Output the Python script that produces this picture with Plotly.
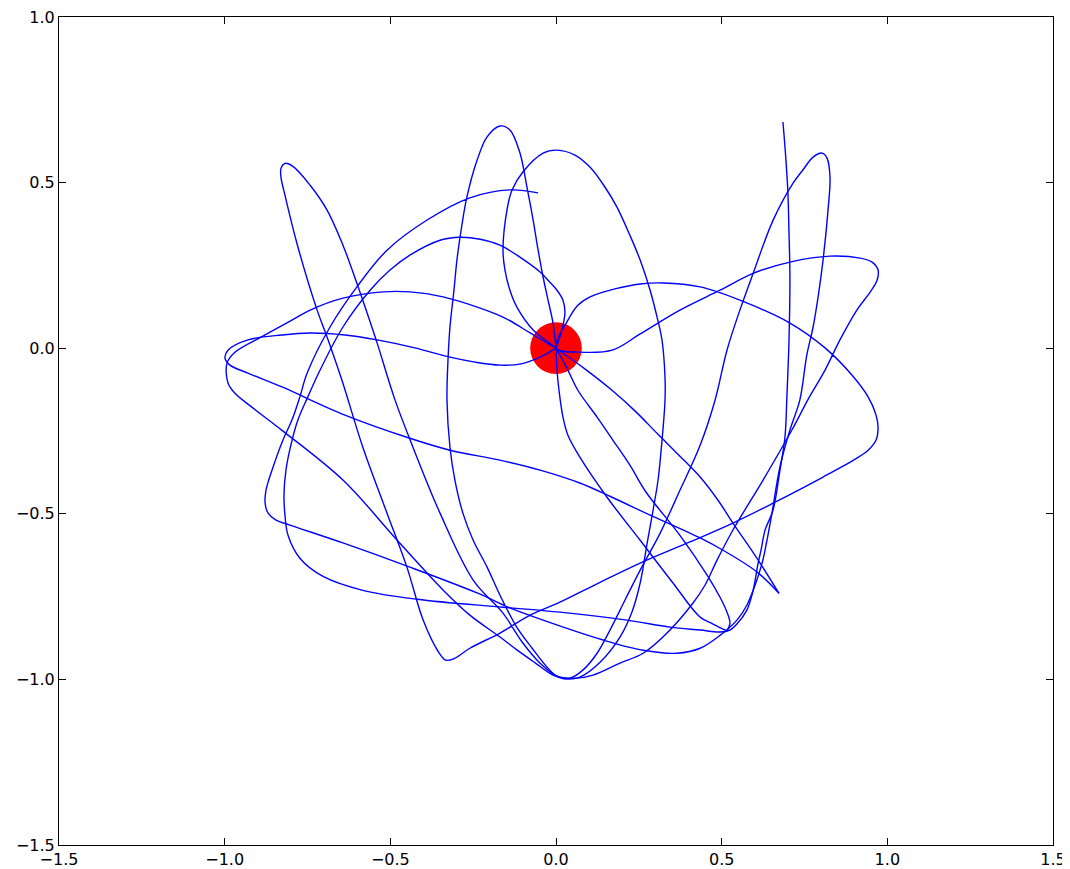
import plotly.graph_objects as go

# ---------------- data ----------------
# Trajectory split at the magnet (0,0) and at sharp turning points.
start_x = [-0.054,-0.139,-0.260,-0.389,-0.510,-0.601,-0.682,-0.751,-0.773,-0.797,-0.824,-0.857,-0.875,-0.878,-0.869,-0.845,-0.803,-0.643,-0.441,-0.238,-0.139,-0.039,0.142,0.263,0.365,0.435,0.495,0.546,0.576,0.601,0.622,0.634,0.652,0.676,0.706,0.736,0.757,0.776,0.791,0.806,0.821,0.827,0.818,0.803,0.776,0.745,0.715,0.655,0.595,0.555,0.516,0.480,0.435,0.374,0.314,0.254,0.208,0.163,0.124,0.081,0.042,0.003,-0.027,-0.072,-0.118,-0.169,-0.208,-0.250,-0.281,-0.305,-0.320,-0.329,-0.326,-0.320,-0.308,-0.299,-0.284,-0.269,-0.238,-0.208,-0.169,-0.139,-0.109,-0.088,-0.069,-0.054,-0.039,-0.024,-0.009,0.0]
start_y = [0.469,0.478,0.454,0.387,0.296,0.185,0.064,-0.075,-0.147,-0.217,-0.277,-0.368,-0.428,-0.467,-0.498,-0.519,-0.534,-0.588,-0.661,-0.739,-0.784,-0.821,-0.881,-0.912,-0.921,-0.906,-0.867,-0.821,-0.776,-0.715,-0.649,-0.594,-0.497,-0.358,-0.247,-0.156,-0.020,0.064,0.154,0.266,0.417,0.516,0.574,0.589,0.577,0.538,0.498,0.386,0.226,0.115,-0.006,-0.157,-0.293,-0.429,-0.559,-0.670,-0.761,-0.851,-0.921,-0.972,-0.996,-0.990,-0.963,-0.906,-0.843,-0.746,-0.661,-0.580,-0.498,-0.399,-0.299,-0.157,-0.036,0.064,0.175,0.266,0.372,0.456,0.568,0.638,0.671,0.659,0.590,0.488,0.387,0.296,0.215,0.145,0.076,0.0]

loop1_x = [0.0,-0.078,-0.154,-0.229,-0.341,-0.441,-0.522,-0.643,-0.742,-0.797,-0.878,-0.969,-0.993,-0.990,-0.969,-0.918,-0.827,-0.643,-0.480,-0.341,-0.260,-0.169,-0.118,-0.063,-0.009,0.033,0.072,0.133,0.193,0.229,0.254,0.275,0.293,0.308,0.320,0.329,0.329,0.320,0.305,0.284,0.254,0.223,0.184,0.148,0.103,0.057,0.003,-0.039,-0.100,-0.133,-0.148,-0.160,-0.154,-0.139,-0.118,-0.069,0.0]
loop1_y = [0.0,0.046,0.091,0.121,0.155,0.170,0.170,0.151,0.115,0.085,0.040,-0.012,-0.045,-0.105,-0.136,-0.178,-0.248,-0.398,-0.579,-0.730,-0.806,-0.872,-0.911,-0.950,-0.987,-0.999,-0.993,-0.948,-0.872,-0.797,-0.709,-0.589,-0.489,-0.398,-0.278,-0.157,-0.088,0.024,0.094,0.175,0.266,0.341,0.426,0.486,0.546,0.583,0.598,0.589,0.532,0.477,0.417,0.296,0.236,0.175,0.124,0.055,0.0]

loop2a_x = [0.0,-0.048,-0.109,-0.169,-0.244,-0.320,-0.426,-0.540,-0.637,-0.742,-0.827,-0.930,-0.990,-0.999,-0.984,-0.930,-0.827,-0.637,-0.441,-0.320,-0.169,-0.048,0.072,0.169,0.284,0.435,0.504,0.607,0.673]
loop2a_y = [0.0,-0.027,-0.048,-0.051,-0.042,-0.027,0.001,0.025,0.040,0.046,0.040,0.025,-0.006,-0.030,-0.051,-0.075,-0.117,-0.202,-0.272,-0.308,-0.338,-0.368,-0.407,-0.450,-0.504,-0.573,-0.610,-0.676,-0.740]

loop2b_x = [0.673,0.616,0.576,0.534,0.489,0.435,0.374,0.305,0.239,0.169,0.088,0.0]
loop2b_y = [-0.740,-0.649,-0.589,-0.528,-0.459,-0.389,-0.326,-0.257,-0.190,-0.127,-0.063,0.0]

loop3a_x = [0.0,0.033,0.066,0.124,0.172,0.223,0.272,0.374,0.456,0.495,0.516,0.525,0.516]
loop3a_y = [0.0,-0.060,-0.127,-0.208,-0.278,-0.353,-0.435,-0.565,-0.685,-0.752,-0.797,-0.830,-0.854]

loop3b_x = [0.516,0.474,0.435,0.353,0.254,0.154,0.072,0.036,0.021,0.009,0.003,0.0]
loop3b_y = [-0.854,-0.833,-0.812,-0.709,-0.580,-0.450,-0.329,-0.263,-0.208,-0.127,-0.066,0.0]

loop4_x = [0.0,0.036,0.066,0.103,0.178,0.254,0.323,0.435,0.555,0.706,0.812,0.893,0.942,0.966,0.972,0.966,0.942,0.908,0.806,0.655,0.534,0.404,0.254,0.133,0.012,-0.078,-0.169,-0.260,-0.305,-0.332,-0.356,-0.401,-0.450,-0.510,-0.583,-0.646,-0.691,-0.721,-0.782,-0.818,-0.830,-0.830,-0.818,-0.794,-0.742,-0.691,-0.643,-0.601,-0.570,-0.540,-0.486,-0.432,-0.350,-0.250,-0.160,-0.100,-0.048,0.003,0.063,0.112,0.193,0.263,0.329,0.413,0.450,0.486,0.534,0.625,0.712,0.760,0.812,0.857,0.908,0.948,0.969,0.972,0.954,0.918,0.827,0.706,0.595,0.495,0.374,0.254,0.172,0.072,0.0]
loop4_y = [0.0,0.085,0.130,0.155,0.179,0.194,0.197,0.185,0.145,0.076,0.001,-0.081,-0.147,-0.202,-0.241,-0.277,-0.308,-0.332,-0.389,-0.468,-0.528,-0.585,-0.649,-0.707,-0.767,-0.806,-0.860,-0.906,-0.936,-0.942,-0.915,-0.821,-0.661,-0.498,-0.299,-0.097,0.034,0.115,0.317,0.462,0.516,0.543,0.558,0.549,0.492,0.417,0.311,0.196,0.106,0.016,-0.156,-0.298,-0.498,-0.700,-0.800,-0.890,-0.951,-0.990,-0.996,-0.987,-0.951,-0.921,-0.866,-0.770,-0.715,-0.640,-0.549,-0.398,-0.247,-0.156,-0.066,0.025,0.115,0.169,0.205,0.236,0.260,0.272,0.278,0.260,0.226,0.175,0.115,0.043,-0.005,-0.012,0.0]

end_x = [0.0,0.015,0.027,0.021,0.003,-0.024,-0.048,-0.109,-0.169,-0.229,-0.290,-0.350,-0.441,-0.501,-0.561,-0.643,-0.712,-0.749,-0.779,-0.800,-0.815,-0.821,-0.818,-0.809,-0.773,-0.703,-0.583,-0.420,-0.160,0.012,0.214,0.344,0.435,0.495,0.525,0.546,0.576,0.595,0.610,0.619,0.631,0.655,0.676,0.691,0.697,0.703,0.706,0.703,0.700,0.694,0.685]
end_y = [0.0,0.045,0.106,0.145,0.175,0.205,0.230,0.275,0.311,0.329,0.335,0.326,0.281,0.236,0.175,0.064,-0.066,-0.147,-0.217,-0.292,-0.368,-0.443,-0.504,-0.564,-0.634,-0.689,-0.731,-0.758,-0.782,-0.797,-0.821,-0.842,-0.851,-0.857,-0.851,-0.833,-0.791,-0.731,-0.649,-0.609,-0.549,-0.489,-0.368,-0.269,-0.142,0.016,0.215,0.357,0.468,0.568,0.683]

segments = [
    (start_x, start_y),
    (loop1_x, loop1_y),
    (loop2a_x, loop2a_y),
    (loop2b_x, loop2b_y),
    (loop3a_x, loop3a_y),
    (loop3b_x, loop3b_y),
    (loop4_x, loop4_y),
    (end_x, end_y),
]

magnet_x = 0.0
magnet_y = 0.0
magnet_r = 0.078

x_ticks = [-1.5, -1.0, -0.5, 0.0, 0.5, 1.0, 1.5]
x_labels = ["\u22121.5", "\u22121.0", "\u22120.5", "0.0", "0.5", "1.0", "1.5"]
y_ticks = [-1.5, -1.0, -0.5, 0.0, 0.5, 1.0]
y_labels = ["\u22121.5", "\u22121.0", "\u22120.5", "0.0", "0.5", "1.0"]

# ---------------- figure ----------------
fig = go.Figure()
for sx, sy in segments:
    fig.add_trace(go.Scatter(
        x=sx, y=sy, mode="lines",
        line=dict(color="rgb(0,0,255)", width=1.4, shape="spline", smoothing=1.0),
        hoverinfo="skip", showlegend=False,
    ))

fig.add_shape(type="circle", xref="x", yref="y",
              x0=magnet_x - magnet_r, x1=magnet_x + magnet_r,
              y0=magnet_y - magnet_r, y1=magnet_y + magnet_r,
              fillcolor="red", line=dict(width=0), layer="below")

axis_common = dict(
    showgrid=False, zeroline=False, showline=True, linecolor="black", linewidth=1,
    mirror="ticks", ticks="inside", ticklen=7, tickwidth=1, tickcolor="black",
    tickfont=dict(family="DejaVu Sans", size=16, color="black"),
    automargin=False, ticklabeloverflow="allow",
)
fig.update_xaxes(range=[-1.5, 1.5], tickvals=x_ticks, ticktext=x_labels, **axis_common)
fig.update_yaxes(range=[-1.5, 1.0], tickvals=y_ticks, ticktext=y_labels, **axis_common)

# the page body adds an 8px offset, so the figure is sized to fit the window
fig.update_layout(
    width=1062, height=861,
    margin=dict(l=51, r=17, t=9, b=24),
    paper_bgcolor="white", plot_bgcolor="white",
    showlegend=False,
)

fig.write_html("out.html")
